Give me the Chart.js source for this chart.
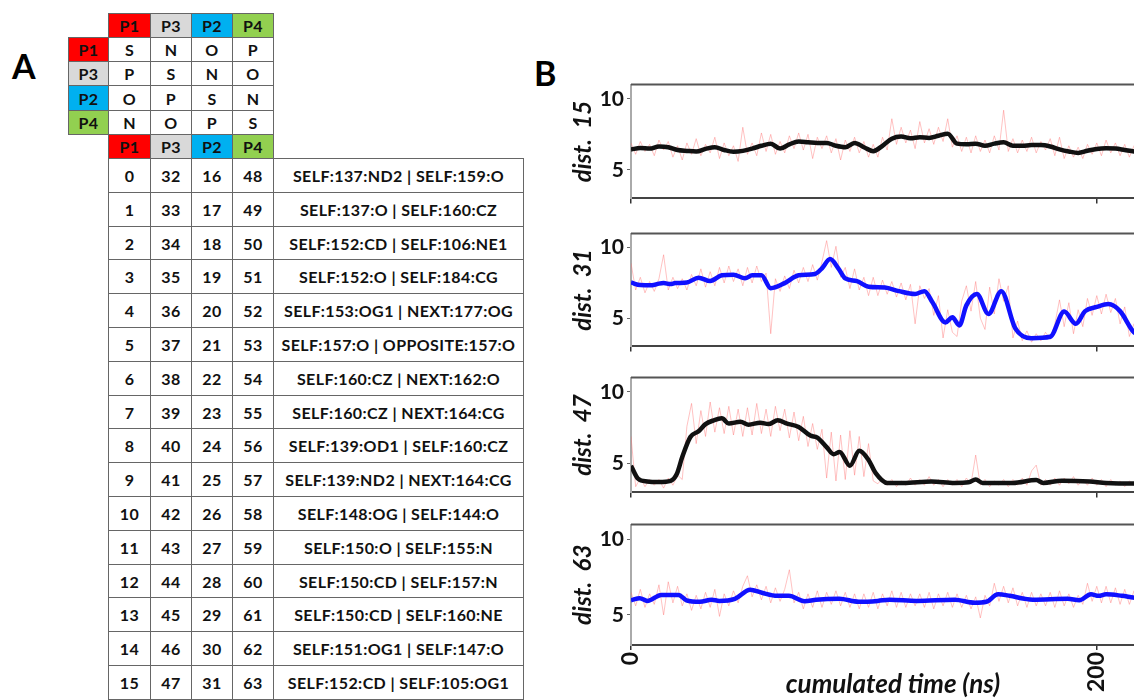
<!DOCTYPE html>
<html>
<head>
<meta charset="utf-8">
<script src="https://cdn.jsdelivr.net/npm/chart.js@4.4.1/dist/chart.umd.min.js"></script>
<style>
    html, body { margin: 0; padding: 0; width: 1134px; height: 700px; overflow: hidden; background: #fff; font-family: Lato, sans-serif; }
    .cell { position: absolute; box-sizing: border-box; border: 1px solid #666; display: flex; align-items: center; justify-content: center; font-weight: bold; font-size: 16px; letter-spacing: 0.4px; color: #111; white-space: nowrap; }
    .big { position: absolute; font-weight: bold; font-size: 34px; line-height: 1; color: #000; }
    canvas { position: absolute; }
</style>
</head>
<body>
<div class="big" style="left:12px;top:49px">A</div>
<div class="big" style="left:534px;top:56px">B</div>
<div id="tableA"></div>

<canvas id="d15" width="591" height="145" style="left:569px;top:69px"></canvas>
<canvas id="d31" width="591" height="144" style="left:569px;top:218px"></canvas>
<canvas id="d47" width="591" height="146" style="left:569px;top:362px"></canvas>
<canvas id="d63" width="591" height="191" style="left:569px;top:509px"></canvas>

<script>
// ===== Table A =====
const pairs = ['P1', 'P3', 'P2', 'P4'];
const pairColors = { P1: '#ff0000', P3: '#d9d9d9', P2: '#00b0f0', P4: '#92d050' };
const relation = [
    ['S', 'N', 'O', 'P'],
    ['P', 'S', 'N', 'O'],
    ['O', 'P', 'S', 'N'],
    ['N', 'O', 'P', 'S']
];
const idxP1 = [0, 1, 2, 3, 4, 5, 6, 7, 8, 9, 10, 11, 12, 13, 14, 15];
const idxP3 = [32, 33, 34, 35, 36, 37, 38, 39, 40, 41, 42, 43, 44, 45, 46, 47];
const idxP2 = [16, 17, 18, 19, 20, 21, 22, 23, 24, 25, 26, 27, 28, 29, 30, 31];
const idxP4 = [48, 49, 50, 51, 52, 53, 54, 55, 56, 57, 58, 59, 60, 61, 62, 63];
const contacts = [
    'SELF:137:ND2 | SELF:159:O',
    'SELF:137:O | SELF:160:CZ',
    'SELF:152:CD | SELF:106:NE1',
    'SELF:152:O | SELF:184:CG',
    'SELF:153:OG1 | NEXT:177:OG',
    'SELF:157:O | OPPOSITE:157:O',
    'SELF:160:CZ | NEXT:162:O',
    'SELF:160:CZ | NEXT:164:CG',
    'SELF:139:OD1 | SELF:160:CZ',
    'SELF:139:ND2 | NEXT:164:CG',
    'SELF:148:OG | SELF:144:O',
    'SELF:150:O | SELF:155:N',
    'SELF:150:CD | SELF:157:N',
    'SELF:150:CD | SELF:160:NE',
    'SELF:151:OG1 | SELF:147:O',
    'SELF:152:CD | SELF:105:OG1'
];

// ===== Panel B data (distance vs cumulated time, ns) =====
const xTicks = [0, 200];
const yTicks = [5, 10];

// raw traces: one sample every 2 ns, from 0 to 220 ns
const d15Raw = [
    6.9, 6.1, 7.0, 6.3, 6.8, 6.0, 7.1, 6.4, 7.0, 5.9,
    6.7, 5.7, 6.9, 6.1, 7.2, 6.0, 6.8, 6.2, 7.3, 5.8,
    6.9, 6.0, 6.7, 5.6, 8.0, 6.1, 6.9, 6.0, 7.6, 6.3,
    7.5, 6.1, 7.0, 6.2, 7.4, 6.5, 7.6, 6.4, 7.5, 5.8,
    7.3, 6.5, 7.4, 6.2, 7.2, 5.7, 7.1, 6.3, 7.3, 6.2,
    7.0, 5.9, 6.8, 5.9, 7.3, 6.4, 8.6, 6.8, 8.0, 6.9,
    7.8, 6.5, 8.4, 6.9, 7.9, 6.8, 8.0, 7.0, 8.6, 6.6,
    7.4, 6.3, 7.3, 6.2, 7.4, 6.3, 7.1, 6.2, 7.4, 6.4,
    9.2, 6.3, 7.2, 6.2, 7.1, 6.3, 7.3, 6.2, 7.0, 6.4,
    7.2, 6.0, 7.3, 5.8, 6.7, 5.9, 6.6, 5.8, 6.8, 6.1,
    6.9, 6.0, 7.1, 6.2, 6.9, 6.0, 6.8, 5.9, 6.7, 6.1, 6.6
];
const d31Raw = [
    8.9, 7.0, 7.9, 6.8, 7.6, 6.9, 7.8, 9.5, 7.0, 7.9,
    7.1, 7.8, 7.0, 8.1, 7.3, 8.5, 7.2, 8.3, 7.3, 8.6,
    7.5, 8.7, 7.6, 8.5, 7.3, 8.6, 7.5, 8.7, 7.6, 8.2,
    3.9, 7.8, 6.9, 8.0, 7.1, 8.4, 7.5, 8.6, 7.6, 8.8,
    7.7, 9.0, 10.5, 8.6, 10.1, 7.9, 8.6, 7.1, 8.5, 7.0,
    7.9, 6.6, 7.9, 6.6, 7.7, 6.7, 7.6, 6.5, 7.5, 6.3,
    7.4, 4.6, 7.3, 6.4, 7.1, 5.2, 6.6, 3.6, 5.6, 4.0,
    3.7, 6.2, 7.3, 5.5, 7.6, 5.0, 4.2, 7.2, 5.3, 7.8,
    6.2, 7.3, 3.6, 4.8, 3.4, 4.1, 3.3, 3.9, 3.4, 4.0,
    3.5, 4.6, 6.3, 4.4, 6.1, 3.9, 5.6, 4.4, 6.4, 5.2,
    6.6, 5.3, 6.7, 5.4, 6.4, 4.6, 5.8, 3.7, 4.6, 3.8, 4.3
];
const d47Raw = [
    6.9, 3.4, 4.0, 3.4, 3.9, 3.5, 3.9, 3.3, 4.0, 3.5,
    4.2, 3.9, 7.6, 9.2, 6.4, 8.7, 6.9, 9.3, 7.2, 8.9,
    7.1, 9.0, 7.0, 8.8, 6.9, 8.9, 7.0, 9.2, 7.1, 8.8,
    6.9, 9.0, 7.3, 8.8, 6.8, 8.6, 6.6, 8.3, 6.2, 7.8,
    6.0, 7.4, 4.0, 7.2, 3.8, 7.0, 3.9, 7.3, 4.2, 6.9,
    4.1, 6.4, 3.8, 3.6, 4.0, 3.5, 3.9, 3.4, 3.8, 3.5,
    4.0, 3.5, 3.9, 3.5, 4.1, 3.5, 3.9, 3.4, 3.9, 3.5,
    3.9, 3.4, 4.0, 3.6, 5.6, 3.5, 3.9, 3.4, 3.8, 3.5,
    3.9, 3.4, 3.9, 3.5, 4.0, 3.5, 4.5, 4.9, 3.5, 3.9,
    3.5, 4.0, 3.5, 4.0, 3.6, 4.1, 3.5, 3.9, 3.5, 4.0,
    3.5, 3.9, 3.4, 3.9, 3.5, 3.8, 3.4, 3.8, 3.5, 3.8, 3.5
];
const d63Raw = [
    6.5, 5.6, 6.7, 5.5, 6.4, 5.7, 7.0, 5.0, 7.2, 5.8,
    6.9, 5.6, 6.4, 5.3, 6.3, 5.4, 6.5, 5.5, 6.7, 4.9,
    6.4, 5.6, 6.6, 5.8, 6.9, 7.6, 6.2, 7.0, 6.0, 6.9,
    5.8, 6.8, 5.9, 6.7, 8.0, 5.8, 6.5, 5.4, 6.4, 5.5,
    6.6, 5.5, 6.5, 5.7, 6.6, 5.6, 6.5, 5.5, 6.4, 5.4,
    6.4, 5.5, 6.5, 5.4, 6.4, 5.6, 6.6, 5.5, 6.5, 5.5,
    6.4, 5.6, 6.4, 5.5, 6.5, 5.4, 6.4, 5.6, 6.5, 5.5,
    6.4, 5.5, 6.3, 5.4, 6.2, 4.8, 6.3, 5.6, 7.1, 5.9,
    6.9, 5.8, 6.8, 5.6, 6.5, 5.5, 6.5, 5.6, 6.4, 5.6,
    6.5, 5.5, 6.6, 5.6, 6.4, 5.5, 6.3, 5.7, 7.1, 5.9,
    6.9, 5.8, 6.9, 5.8, 6.8, 5.7, 6.7, 5.7, 6.6, 5.8, 6.5
];
const rawTimes = d15Raw.map((_, i) => i * 2);

// smoothed traces (time, value)
const d15SmoothT = [0, 4, 8, 12, 16, 20, 24, 28, 32, 36, 40, 44, 48, 52, 56, 60, 64, 68, 72, 76, 80, 84, 88, 92, 96, 100, 104, 108, 112, 116, 120, 124, 128, 132, 136, 140, 144, 148, 152, 156, 160, 164, 168, 172, 176, 180, 184, 188, 192, 196, 200, 204, 208, 212, 216, 220, 224];
const d15SmoothV = [6.44, 6.54, 6.5, 6.65, 6.6, 6.4, 6.34, 6.3, 6.48, 6.6,
    6.4, 6.28, 6.34, 6.5, 6.7, 6.85, 6.5, 6.8, 7.0, 6.95,
    6.9, 6.9, 6.7, 6.6, 6.9, 6.6, 6.32, 6.7, 7.2, 7.35,
    7.22, 7.3, 7.25, 7.4, 7.55, 6.85, 6.8, 6.85, 6.7, 6.85,
    6.95, 6.7, 6.7, 6.75, 6.75, 6.65, 6.45, 6.3, 6.2, 6.35,
    6.48, 6.52, 6.5, 6.4, 6.3, 6.25, 6.2];

const d31SmoothT = [0, 4, 9, 12, 14, 17, 19, 24, 29, 34, 39, 44, 49, 52, 56, 60, 66, 72, 79, 82, 85.5, 89, 92, 97, 102, 109, 115, 122, 126, 129.5, 135, 138, 141, 144, 148.5, 153.5, 159, 165, 172, 180, 186, 191, 195, 200, 205, 210, 216, 222];
const d31SmoothV = [7.53, 7.35, 7.33, 7.45, 7.49, 7.42, 7.49, 7.53, 7.87, 7.63,
    8.04, 8.08, 7.83, 8.04, 8.04, 7.13, 7.49, 8.04, 8.14, 8.54,
    9.19, 8.54, 7.83, 7.63, 7.23, 7.17, 6.92, 6.72, 6.92, 6.11,
    4.7, 5.06, 4.49, 5.91, 6.72, 5.3, 6.92, 4.29, 3.58, 3.68,
    5.47, 4.6, 5.5, 5.8, 6.0, 5.5, 3.99, 3.6];

const d47SmoothT = [0, 3, 7, 12, 17, 19.6, 22, 25.5, 29, 32, 35.5, 39, 42, 47, 50.5, 55.5, 59, 63, 67, 72, 77, 80, 84, 87, 89.6, 94, 98, 102, 105, 110, 117, 129, 139, 145, 148, 151, 164, 174, 177, 185, 197, 204, 217, 224];
const d47SmoothV = [4.86, 3.96, 3.76, 3.72, 3.8, 4.26, 5.46, 6.86, 7.26, 7.76,
    8.02, 8.16, 7.8, 7.92, 7.72, 7.86, 7.76, 8.02, 7.8, 7.56,
    6.96, 6.82, 6.16, 5.66, 5.82, 4.86, 5.9, 5.26, 4.36, 3.66,
    3.66, 3.76, 3.66, 3.7, 3.9, 3.66, 3.66, 3.86, 3.66, 3.82,
    3.76, 3.66, 3.62, 3.62];

const d63SmoothT = [0, 3.8, 7, 13, 20.4, 23.8, 29.6, 34.6, 37.9, 44.6, 51.2, 56.2, 62.8, 67.8, 74.5, 79.5, 89.4, 97.8, 106, 111, 122.7, 139, 147.6, 152.6, 157.6, 162.6, 169, 172.6, 187.5, 192.5, 197.5, 200.8, 204, 210.8, 217, 224];
const d63SmoothV = [5.97, 6.11, 5.93, 6.33, 6.33, 5.97, 5.87, 6.01, 5.93, 6.07,
    6.67, 6.47, 6.27, 6.27, 5.91, 6.01, 6.07, 5.87, 5.93, 6.01,
    5.93, 6.01, 5.81, 5.87, 6.37, 6.27, 6.07, 6.01, 6.07, 5.97,
    6.37, 6.27, 6.37, 6.27, 6.13, 6.1];

// ===== build table A =====
const box = document.getElementById('tableA');
function cell(x, y, w, h, text, bg) {
    const d = document.createElement('div');
    d.className = 'cell';
    d.style.cssText = `left:${x}px;top:${y}px;width:${w}px;height:${h}px;` + (bg ? `background:${bg};` : '');
    d.textContent = text;
    box.appendChild(d);
}
const colX = [108, 150, 191, 232, 273, 523];
const gridY = [13, 37, 61, 85, 110, 134, 158];

pairs.forEach((p, j) => cell(colX[j], gridY[0], colX[j + 1] - colX[j] + 1, gridY[1] - gridY[0] + 1, p, pairColors[p]));
pairs.forEach((p, i) => {
    const y = gridY[i + 1], h = gridY[i + 2] - y + 1;
    cell(68, y, 41, h, p, pairColors[p]);
    relation[i].forEach((r, j) => cell(colX[j], y, colX[j + 1] - colX[j] + 1, h, r));
});
pairs.forEach((p, j) => cell(colX[j], gridY[5], colX[j + 1] - colX[j] + 1, gridY[6] - gridY[5] + 1, p, pairColors[p]));

const rowH = 33.8;
contacts.forEach((c, i) => {
    const y = Math.round(158 + i * rowH);
    const h = Math.round(158 + (i + 1) * rowH) - y + 1;
    [idxP1[i], idxP3[i], idxP2[i], idxP4[i]].forEach((v, j) => cell(colX[j], y, colX[j + 1] - colX[j] + 1, h, v));
    cell(colX[4], y, colX[5] - colX[4] + 1, h, c);
});

// ===== charts =====
const topFrame = {
    id: 'topFrame',
    afterDatasetsDraw(chart) {
        const { ctx, chartArea: a } = chart;
        ctx.save();
        ctx.strokeStyle = '#555';
        ctx.lineWidth = 2;
        ctx.beginPath();
        ctx.moveTo(a.left, a.top);
        ctx.lineTo(a.right, a.top);
        ctx.stroke();
        ctx.restore();
    }
};

function renderPanel(elementId, raw, smoothT, smoothV, color, title, isLast) {
    const ctx = document.getElementById(elementId).getContext('2d');
    new Chart(ctx, {
        type: 'line',
        data: {
            datasets: [{
                data: smoothT.map((t, i) => ({ x: t, y: smoothV[i] })),
                borderColor: color,
                borderWidth: 4.5,
                pointRadius: 0,
                cubicInterpolationMode: 'monotone',
                order: 0
            }, {
                data: raw.map((v, i) => ({ x: rawTimes[i], y: v })),
                borderColor: 'rgba(255,110,110,0.42)',
                borderWidth: 1,
                pointRadius: 0,
                order: 1
            }]
        },
        options: {
            responsive: false,
            animation: false,
            devicePixelRatio: 1,
            layout: { padding: { top: 6, right: 5, left: 0, bottom: 0 } },
            plugins: { legend: { display: false }, tooltip: { enabled: false } },
            scales: {
                x: {
                    type: 'linear', min: 0, max: 225,
                    afterBuildTicks: s => { s.ticks = xTicks.map(v => ({ value: v })); },
                    afterFit: s => { s.height = isLast ? 55 : 8; },
                    grid: { drawOnChartArea: false, drawTicks: true, tickLength: 5, color: '#333', lineWidth: 1.5 },
                    border: { color: '#444', width: 2 },
                    ticks: { display: isLast, minRotation: 90, maxRotation: 90, padding: 2, color: '#111', font: { family: 'Lato', size: 23, weight: 'bold' } },
                    title: { display: isLast, text: 'cumulated time (ns)', color: '#111', padding: { top: 0, bottom: 0 }, font: { family: 'Lato', size: 26, weight: 'bold', style: 'italic' } }
                },
                y: {
                    min: 3, max: 11,
                    afterBuildTicks: s => { s.ticks = yTicks.map(v => ({ value: v })); },
                    afterFit: s => { s.width = 62; },
                    grid: { drawOnChartArea: false, tickLength: 4, color: '#666' },
                    border: { color: '#aaa', width: 2 },
                    ticks: { padding: 3, color: '#111', font: { family: 'Lato', size: 21, weight: 'bold' } },
                    title: { display: true, text: title, color: '#111', padding: { top: 0, bottom: 0 }, font: { family: 'Lato', size: 24, weight: 'bold', style: 'italic' } }
                }
            }
        },
        plugins: [topFrame]
    });
}

renderPanel('d15', d15Raw, d15SmoothT, d15SmoothV, '#111111', 'dist.  15', false);
renderPanel('d31', d31Raw, d31SmoothT, d31SmoothV, '#1010ff', 'dist.  31', false);
renderPanel('d47', d47Raw, d47SmoothT, d47SmoothV, '#111111', 'dist.  47', false);
renderPanel('d63', d63Raw, d63SmoothT, d63SmoothV, '#1010ff', 'dist.  63', true);
</script>
</body>
</html>
